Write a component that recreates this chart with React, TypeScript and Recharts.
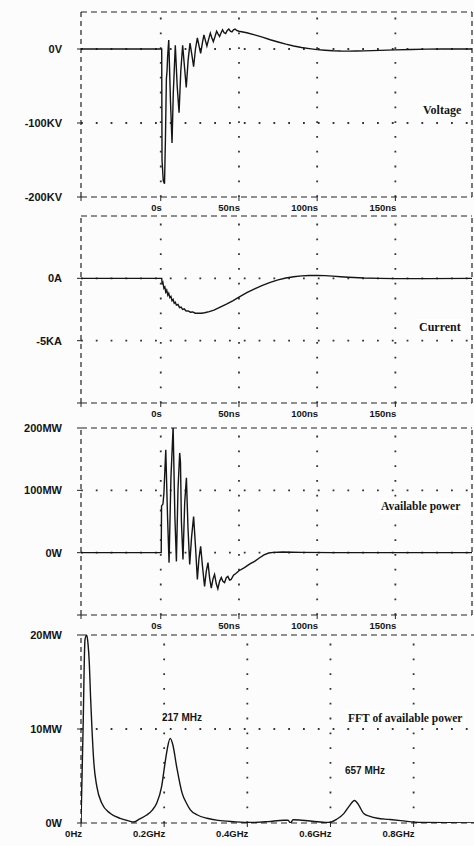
import React from "react";
import { LineChart, Line, XAxis, YAxis, ReferenceLine } from "recharts";

// time axis (ns) shared by the three transient panels
const timeDomain = [-51, 199];
const timeTicks = [-51, 0, 50, 100, 150];
const timeTickLabels = ["", "0s", "50ns", "100ns", "150ns"];

// voltage (kV) vs time (ns)
const voltageTime = [
  -51, 0.6, 0.8, 1.6, 2.4, 3.0, 3.6, 4.0, 4.4, 5.1, 6.2, 7.2, 8.0, 9.3, 10.5, 11.7, 12.8, 14.0, 15.2, 16.3,
  17.5, 18.7, 19.9, 21.0, 22.2, 23.4, 24.5, 25.5, 26.6, 27.6, 28.6, 29.5, 30.6, 31.7, 32.7, 33.6, 34.7, 35.7,
  36.7, 37.6, 38.6, 39.5, 40.5, 41.5, 42.5, 43.5, 44.5, 45.5, 46.5, 47.5, 48.5, 50, 55, 60, 65, 70, 75, 80,
  85, 90, 95, 100, 105, 110, 115, 120, 125, 130, 140, 150, 160, 170, 180, 199,
];
const voltageKV = [
  0, 0, -150, -178, -182, -120, -40, -30, -10, 12, -70, -127, -60, 5, -50, -86, -30, 5, -25, -52,
  -15, 8, -8, -24, 0, 15, 4, -6, 8, 19, 11, 4, 13, 21.5, 15, 10, 17, 24,
  20, 17, 22, 26, 22, 21, 25, 27, 24, 23, 26, 27, 25, 24, 22, 19, 16, 12.5, 9.5, 6.5,
  4, 2, 0.5, -0.8, -1.7, -2.4, -2.8, -2.9, -2.8, -2.5, -1.9, -1.2, -0.6, -0.2, 0, 0,
];

// current (kA) vs time (ns)
const currentTime = [
  -51, 0.6, 0.9, 1.4, 2.0, 2.6, 3.2, 3.8, 4.5, 5.1, 5.8, 6.5, 7.2, 7.9, 8.6, 9.3, 10, 11, 12, 13, 14, 15, 16,
  17.5, 19, 20.5, 22, 24, 26, 28, 31, 34, 38, 42, 46, 50, 55, 60, 65, 70, 75, 80, 85, 90, 95, 100, 105, 110,
  115, 120, 130, 140, 150, 170, 199,
];
const currentKA = [
  0, 0, -0.5, -0.35, -0.8, -0.7, -1.1, -0.95, -1.35, -1.2, -1.55, -1.45, -1.8, -1.7, -2.0, -1.92, -2.15,
  -2.1, -2.35, -2.3, -2.5, -2.45, -2.6, -2.62, -2.72, -2.7, -2.8, -2.8, -2.8, -2.76, -2.67, -2.55, -2.3,
  -2.07, -1.8, -1.5, -1.15, -0.85, -0.57, -0.32, -0.12, 0.03, 0.13, 0.2, 0.23, 0.24, 0.22, 0.18, 0.13, 0.09,
  0.03, 0, -0.02, -0.02, 0,
];

// available power (MW) vs time (ns)
const powerTime = [
  -51, 0.3, 0.5, 1.4, 2.0, 3.2, 4.3, 5.3, 6.5, 7.9, 9.0, 10, 11.0, 12.1, 12.6, 13.2, 14.2, 15.3, 16.4, 17.4,
  18.5, 19.7, 21, 22.2, 23.4, 24.4, 25.5, 26.8, 28, 29.1, 30.2, 31.2, 32.3, 33.4, 34.4, 35.5, 36.5, 37.6,
  38.7, 39.7, 40.8, 41.9, 42.9, 44, 45, 46.5, 48.2, 50, 53.5, 57, 60, 63, 66, 69, 72, 78, 90, 110, 199,
];
const powerMW = [
  0, 0, 75, 78, 95, 165, 60, -16, 120, 202, 60, -14, 100, 160, 145, 50, -11, 80, 120, 40,
  -19, 25, 58, 10, -43, -10, 10, -25, -54, -30, -16, -40, -57, -42, -35, -50, -58, -46,
  -40, -46, -48, -40, -38, -44, -43, -36, -33, -29, -24, -18, -14, -8.5, -3.5, -0.5, 0.5, 1, 0.5, 0, 0,
];

// FFT of available power (MW) vs frequency (GHz)
const fftFreq = [
  0, 0.005, 0.0096, 0.0137, 0.017, 0.02, 0.023, 0.0265, 0.031, 0.038, 0.05, 0.07, 0.094, 0.115, 0.126,
  0.14, 0.158, 0.172, 0.182, 0.194, 0.202, 0.208, 0.2145, 0.221, 0.23, 0.243, 0.255, 0.263, 0.28, 0.303,
  0.33, 0.367, 0.407, 0.45, 0.488, 0.498, 0.504, 0.51, 0.53, 0.568, 0.596, 0.615, 0.632, 0.645, 0.658,
  0.668, 0.68, 0.695, 0.713, 0.74, 0.769, 0.817, 0.95,
];
const fftMW = [
  0, 10, 19.5, 20, 19, 17, 13.4, 9.9, 6.35, 3.9, 2.1, 1.03, 0.5, 0.22, 0.1,
  0.4, 0.85, 1.4, 2.1, 3.9, 6.35, 8.0, 9.0, 8.3, 6.0, 3.2, 2.0, 1.4, 0.85, 0.5,
  0.28, 0.14, 0.05, 0.15, 0.3, 0.3, 0, 0.35, 0.3, 0.14, 0.05, 0.4, 1.0, 1.8, 2.4,
  1.9, 1.0, 0.7, 0.5, 0.38, 0.25, 0.05, 0,
];
const freqTicks = [0, 0.2, 0.4, 0.6, 0.8];
const freqTickLabels = ["0Hz", "0.2GHz", "0.4GHz", "0.6GHz", "0.8GHz"];

const voltageData = voltageTime.map((t, i) => ({ t, v: voltageKV[i] }));
const currentData = currentTime.map((t, i) => ({ t, v: currentKA[i] }));
const powerData = powerTime.map((t, i) => ({ t, v: powerMW[i] }));
const fftData = fftFreq.map((t, i) => ({ t, v: fftMW[i] }));

const INK = "#151515";
const SANS = '"Liberation Sans", Arial, sans-serif';
const SERIF = '"Liberation Serif", "Times New Roman", serif';
const PAD = 10; // room above each plot so the top tick label isn't clipped

function makeXTick(ticks: number[], labels: string[]) {
  return (props: any) => {
    const { x, y, payload } = props;
    const idx = ticks.findIndex((v) => Math.abs(v - payload.value) < 1e-9);
    const label = idx >= 0 ? labels[idx] : "";
    if (!label) return <g />;
    return (
      <text x={x + 1} y={y} dy="0.71em" textAnchor="end" fill={INK} fontSize={9.5} fontWeight={700} fontFamily={SANS}>
        {label}
      </text>
    );
  };
}

interface PanelProps {
  top: number;
  plotHeight: number;
  width: number;
  marginRight: number;
  data: { t: number; v: number }[];
  xDomain: number[];
  xTicks: number[];
  xLabels: string[];
  xGrid: number[];
  yDomain: number[];
  yTicks: number[];
  yFormat: (v: number) => string;
  yGrid: number[];
  rightBorder: boolean;
  curve: "linear" | "monotone";
}

function Panel(p: PanelProps) {
  const border = { stroke: "#222", strokeWidth: 1.2 };
  const dots = { stroke: "#333", strokeWidth: 1.8, strokeDasharray: "1.8 13" };
  return (
    <div style={{ position: "absolute", left: 0, top: p.top - PAD }}>
      <LineChart
        width={p.width}
        height={p.plotHeight + PAD + 20}
        data={p.data}
        margin={{ top: PAD, right: p.marginRight, bottom: 0, left: 0 }}
      >
        <XAxis
          dataKey="t"
          type="number"
          domain={p.xDomain}
          allowDataOverflow
          ticks={p.xTicks}
          interval={0}
          axisLine={false}
          tickSize={4}
          tickMargin={3}
          tickLine={{ stroke: "#222" }}
          tick={makeXTick(p.xTicks, p.xLabels)}
          height={20}
        />
        <YAxis
          type="number"
          domain={p.yDomain}
          allowDataOverflow
          ticks={p.yTicks}
          interval={0}
          width={81}
          axisLine={false}
          tickSize={4}
          tickMargin={15}
          tickLine={{ stroke: "#222" }}
          tickFormatter={p.yFormat}
          tick={{ fill: INK, fontSize: 11, fontWeight: 700, fontFamily: SANS }}
        />
        {p.xGrid.map((x) => (
          <ReferenceLine key={"gx" + x} x={x} {...dots} />
        ))}
        {p.yGrid.map((y) => (
          <ReferenceLine key={"gy" + y} y={y} {...dots} />
        ))}
        <ReferenceLine y={p.yDomain[1]} {...border} strokeDasharray="6 4" />
        <ReferenceLine y={p.yDomain[0]} {...border} strokeDasharray="6 4" />
        <ReferenceLine x={p.xDomain[0]} {...border} strokeDasharray="5 4" />
        {p.rightBorder && <ReferenceLine x={p.xDomain[1]} {...border} strokeDasharray="5 4" />}
        <Line
          dataKey="v"
          type={p.curve}
          stroke={INK}
          strokeWidth={1.4}
          dot={false}
          activeDot={false}
          isAnimationActive={false}
        />
      </LineChart>
    </div>
  );
}

const titleStyle = (left: number, top: number, size: number): React.CSSProperties => ({
  position: "absolute",
  left,
  top,
  background: "#fff",
  padding: "1px 3px",
  fontFamily: SERIF,
  fontWeight: 700,
  fontSize: size,
  lineHeight: "14px",
  color: INK,
  whiteSpace: "nowrap",
});

const peakStyle = (left: number, top: number): React.CSSProperties => ({
  position: "absolute",
  left,
  top,
  fontFamily: SANS,
  fontWeight: 700,
  fontSize: 10,
  lineHeight: "12px",
  color: INK,
  whiteSpace: "nowrap",
});

export default function App() {
  return (
    <div
      style={{
        position: "absolute",
        left: 0,
        top: 0,
        width: 474,
        height: 846,
        overflow: "hidden",
        background: "#fcfcfc",
      }}
    >
      <Panel
        top={12}
        plotHeight={185}
        width={474}
        marginRight={2}
        data={voltageData}
        xDomain={timeDomain}
        xTicks={timeTicks}
        xLabels={timeTickLabels}
        xGrid={[0, 50, 100, 150]}
        yDomain={[-200, 50]}
        yTicks={[-200, -100, 0]}
        yFormat={(v) => (v === 0 ? "0V" : `${v}KV`)}
        yGrid={[0, -100]}
        rightBorder
        curve="linear"
      />
      <Panel
        top={216}
        plotHeight={187}
        width={474}
        marginRight={2}
        data={currentData}
        xDomain={timeDomain}
        xTicks={timeTicks}
        xLabels={timeTickLabels}
        xGrid={[0, 50, 100, 150]}
        yDomain={[-10, 5]}
        yTicks={[-10, -5, 0]}
        yFormat={(v) => (v === 0 ? "0A" : v === -5 ? "-5KA" : "")}
        yGrid={[0, -5]}
        rightBorder
        curve="linear"
      />
      <Panel
        top={428}
        plotHeight={187}
        width={474}
        marginRight={2}
        data={powerData}
        xDomain={timeDomain}
        xTicks={timeTicks}
        xLabels={timeTickLabels}
        xGrid={[0, 50, 100, 150]}
        yDomain={[-100, 200]}
        yTicks={[-100, 0, 100, 200]}
        yFormat={(v) => (v === 0 ? "0W" : v > 0 ? `${v}MW` : "")}
        yGrid={[0, 100]}
        rightBorder
        curve="linear"
      />
      <Panel
        top={635}
        plotHeight={188}
        width={476}
        marginRight={0}
        data={fftData}
        xDomain={[0, 0.95]}
        xTicks={freqTicks}
        xLabels={freqTickLabels}
        xGrid={[0.2, 0.4, 0.6, 0.8]}
        yDomain={[0, 20]}
        yTicks={[0, 10, 20]}
        yFormat={(v) => (v === 0 ? "0W" : `${v}MW`)}
        yGrid={[10]}
        rightBorder={false}
        curve="monotone"
      />
      <div style={titleStyle(420, 102, 12)}>Voltage</div>
      <div style={titleStyle(416, 319, 12)}>Current</div>
      <div style={titleStyle(378, 498, 11.5)}>Available power</div>
      <div style={titleStyle(345, 710, 11.5)}>FFT of available power</div>
      <div style={peakStyle(162, 712)}>217 MHz</div>
      <div style={peakStyle(345, 765)}>657 MHz</div>
    </div>
  );
}
